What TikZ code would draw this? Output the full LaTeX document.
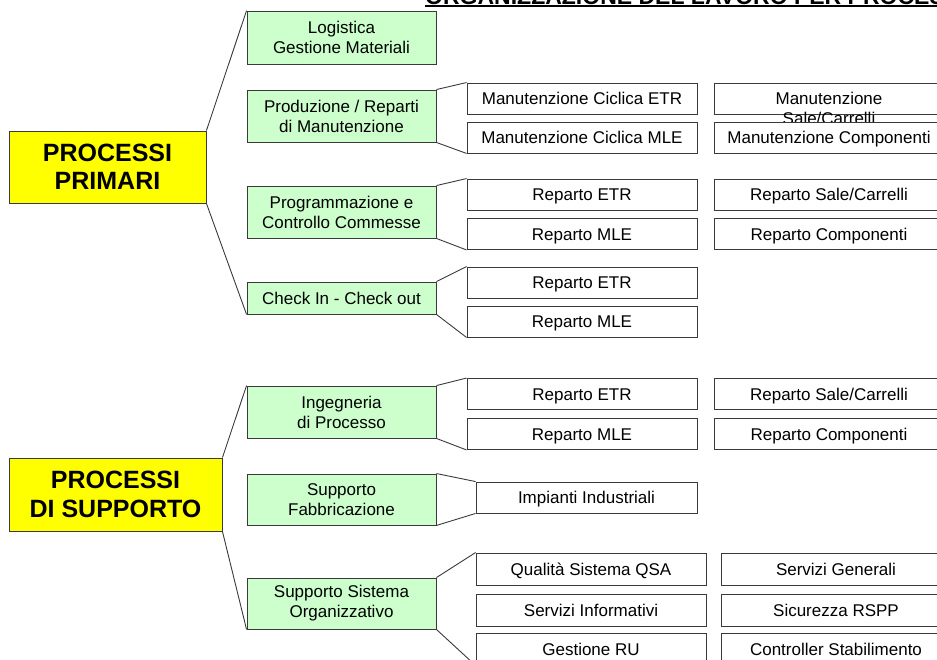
\documentclass[tikz,border=0pt]{standalone}
\usepackage{fontspec}
\setmainfont{Liberation Sans}
\definecolor{giallo}{HTML}{FFFF00}
\definecolor{verde}{HTML}{CCFFCC}
\definecolor{bordo}{HTML}{3A3A3A}
\begin{document}
\begin{tikzpicture}[x=1pt,y=-1pt]
	\tikzset{pr/.style={draw=bordo, fill=giallo, line width=0.9pt, align=center, inner sep=0pt, font=\fontsize{25}{28.5}\selectfont\bfseries},
		gr/.style={draw=bordo, fill=verde, line width=0.9pt, align=center, inner sep=0pt, minimum width=189pt, font=\fontsize{17}{20}\selectfont},
		wh/.style={draw=bordo, fill=white, line width=0.9pt, inner sep=0pt, minimum width=230pt, minimum height=31pt, text height=12pt, text depth=0pt, font=\fontsize{17}{20}\selectfont},
		cn/.style={draw=bordo, line width=0.9pt}};
	\useasboundingbox (0,0) rectangle (937,659);
	\clip (0,0) rectangle (937,659);

	% titolo
	\node[anchor=base west, inner sep=0pt, font=\fontsize{23}{26}\selectfont\bfseries] (tit) at (425,4) {ORGANIZZAZIONE DEL LAVORO PER PROCESSI};
	\draw[line width=2pt] ([yshift=-1.7pt]tit.base west) -- ([yshift=-1.7pt]tit.base east);

	% processi
	\node[pr, minimum width=197pt, minimum height=72pt] (prim) at (107.5,167) {PROCESSI\\PRIMARI};
	\node[pr, minimum width=213pt, minimum height=73pt] (supp) at (115.5,494.5) {PROCESSI\\DI SUPPORTO};

	\node[gr, minimum height=53pt] (logi) at (341.5,37.5) {Logistica\\Gestione Materiali};
	\node[gr, minimum height=52pt] (prod) at (341.5,116) {Produzione / Reparti\\di Manutenzione};
	\node[gr, minimum height=52pt] (prog) at (341.5,212) {Programmazione e\\Controllo Commesse};
	\node[gr, minimum height=32pt] (chk) at (341.5,298) {Check In - Check out};
	\node[gr, minimum height=52pt] (inge) at (341.5,412) {Ingegneria\\di Processo};
	\node[gr, minimum height=51pt] (fabb) at (341.5,499.5) {Supporto\\Fabbricazione};
	\node[gr, minimum height=51pt] (sist) at (341.5,603.5) {Supporto Sistema\\Organizzativo};

	% produzione
	\node[wh] (mcEtr) at (582,98.5) {Manutenzione Ciclica ETR};
	\node[wh] (mcMle) at (582,137.5) {Manutenzione Ciclica MLE};
	\node[wh] (mSale) at (829,98.5) {Manutenzione};
	\node[anchor=base, inner sep=0pt, font=\fontsize{17}{20}\selectfont] (mSaleb) at ([yshift=-20pt]mSale.base) {Sale/Carrelli};
	\node[wh] (mComp) at (829,137.5) {Manutenzione Componenti};

	% programmazione
	\node[wh] (etrA) at (582,194.5) {Reparto ETR};
	\node[wh] (mleA) at (582,234) {Reparto MLE};
	\node[wh] (saleA) at (829,194.5) {Reparto Sale/Carrelli};
	\node[wh] (compA) at (829,234) {Reparto Componenti};

	% check in
	\node[wh] (etrB) at (582,282.5) {Reparto ETR};
	\node[wh] (mleB) at (582,321.5) {Reparto MLE};

	% ingegneria
	\node[wh] (etrC) at (582,394) {Reparto ETR};
	\node[wh] (mleC) at (582,434) {Reparto MLE};
	\node[wh] (saleC) at (829,394) {Reparto Sale/Carrelli};
	\node[wh] (compC) at (829,434) {Reparto Componenti};

	% fabbricazione
	\node[wh, minimum width=221pt] (imp) at (586.5,497.5) {Impianti Industriali};

	% sistema organizzativo
	\node[wh, minimum height=32pt] (qsa) at (591,569) {Qualità Sistema QSA};
	\node[wh, minimum height=32pt] (info) at (591,610) {Servizi Informativi};
	\node[wh, minimum height=32pt] (ru) at (591,649) {Gestione RU};
	\node[wh, minimum height=32pt] (gen) at (836,569) {Servizi Generali};
	\node[wh, minimum height=32pt] (rspp) at (836,610) {Sicurezza RSPP};
	\node[wh, minimum height=32pt] (ctrl) at (836,649) {Controller Stabilimento};

	% collegamenti
	\draw[cn] (prim.north east) -- (logi.north west);
	\draw[cn] (prim.south east) -- (chk.south west);
	\draw[cn] (supp.north east) -- (inge.north west);
	\draw[cn] (supp.south east) -- (sist.south west);
	\draw[cn] (prod.north east) -- (mcEtr.north west);
	\draw[cn] (prod.south east) -- (mcMle.south west);
	\draw[cn] (prog.north east) -- (etrA.north west);
	\draw[cn] (prog.south east) -- (mleA.south west);
	\draw[cn] (chk.north east) -- (etrB.north west);
	\draw[cn] (chk.south east) -- (mleB.south west);
	\draw[cn] (inge.north east) -- (etrC.north west);
	\draw[cn] (inge.south east) -- (mleC.south west);
	\draw[cn] (fabb.north east) -- (imp.north west);
	\draw[cn] (fabb.south east) -- (imp.south west);
	\draw[cn] (sist.north east) -- (qsa.north west);
	\draw[cn] (sist.south east) -- (ru.south west);
\end{tikzpicture}
\end{document}
